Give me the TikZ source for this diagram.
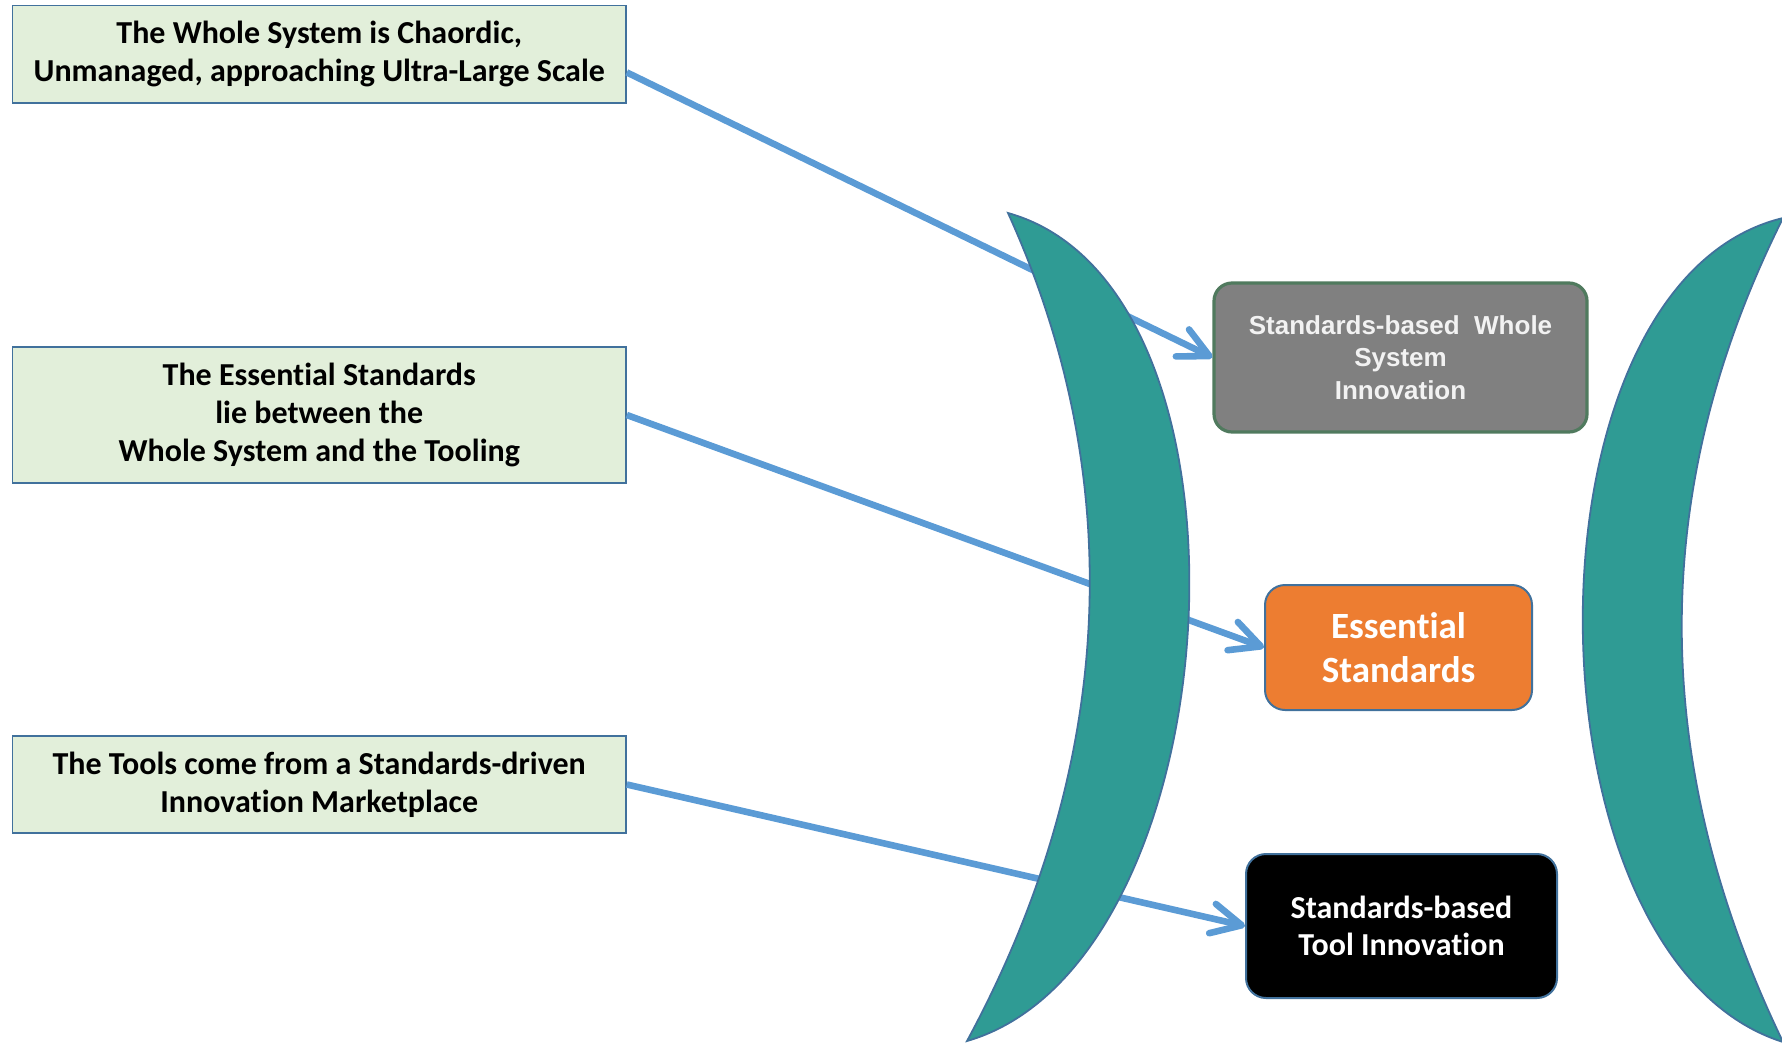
\documentclass[tikz,border=0pt]{standalone}
\usepackage{fontspec}
\setmainfont{Carlito}[Ligatures=NoCommon]
\newfontfamily\arialfont{Liberation Sans}
\usetikzlibrary{arrows.meta,calc}

\definecolor{notegreen}{RGB}{226,239,218}
\definecolor{edgeblue}{RGB}{65,113,156}
\definecolor{linkblue}{RGB}{91,155,213}
\definecolor{lensteal}{RGB}{47,155,148}
\definecolor{sysgray}{RGB}{128,128,128}
\definecolor{sysedge}{RGB}{80,122,94}
\definecolor{stdorange}{RGB}{237,125,49}
\definecolor{softwhite}{RGB}{242,242,242}

\begin{document}
\begin{tikzpicture}[x=0.5pt,y=-0.5pt,
  note/.style={draw=edgeblue,line width=0.8pt,fill=notegreen,
    minimum width=306.75pt,inner sep=0pt,align=center,
    font=\bfseries\fontsize{16}{19}\selectfont},
  block/.style={rounded corners=10pt,inner sep=0pt,align=center,text=white},
  link/.style={draw=linkblue,line width=3.3pt,line cap=butt,
    -{Straight Barb[length=15pt,width=15pt,round]}},
  lens/.style={fill=lensteal,draw=edgeblue,line width=0.9pt}]

\useasboundingbox (0,0) rectangle (1782,1044);
\clip (0,0) rectangle (1782,1044);

% captions on the left
\node[note,minimum height=48.75pt] (g1) at (319.25,54.4)
  {The Whole System is Chaordic,\\Unmanaged, approaching Ultra-Large Scale};
\node[note,minimum height=68pt] (g2) at (319.25,415)
  {The Essential Standards\\lie between the\\Whole System and the Tooling};
\node[note,minimum height=48.5pt] (g3) at (319.25,784.5)
  {The Tools come from a Standards-driven\\Innovation Marketplace};

% the three layers
\node[block,fill=sysgray,draw=sysedge,line width=1.6pt,rounded corners=9pt,
  minimum width=186.5pt,minimum height=74.5pt,text=softwhite,
  font=\arialfont\bfseries\fontsize{13}{16.2}\selectfont] (sys) at (1400.5,357.5)
  {Standards-based\ \ Whole\\System\\Innovation};
\node[block,fill=stdorange,draw=edgeblue,line width=1pt,
  minimum width=133.5pt,minimum height=62.5pt,
  font=\bfseries\fontsize{18.5}{22}\selectfont] (std) at (1398.5,647.5)
  {Essential\\Standards};
\node[block,fill=black,draw=edgeblue,line width=1pt,
  minimum width=155.5pt,minimum height=72pt,
  font=\bfseries\fontsize{16}{18.75}\selectfont] (tool) at (1401.5,926)
  {Standards-based\\Tool Innovation};

% connectors
\coordinate (s1) at ($(g1.east)+(0,18)$);
\draw[link] (s1) -- (sys.west);
\draw[link] (g2.east) -- (std.west);
\draw[link] (g3.east) -- (tool.west);

% crescent lenses
\draw[lens] (1008,213) .. controls (1276,288) and (1234,964) .. (967,1041)
  .. controls (1111,775) and (1133,488) .. (1008,213) -- cycle;
\draw[lens] (1783,218) .. controls (1513,283) and (1519,959) .. (1783,1042)
  .. controls (1650,766) and (1646,492) .. (1783,218) -- cycle;
\end{tikzpicture}
\end{document}
